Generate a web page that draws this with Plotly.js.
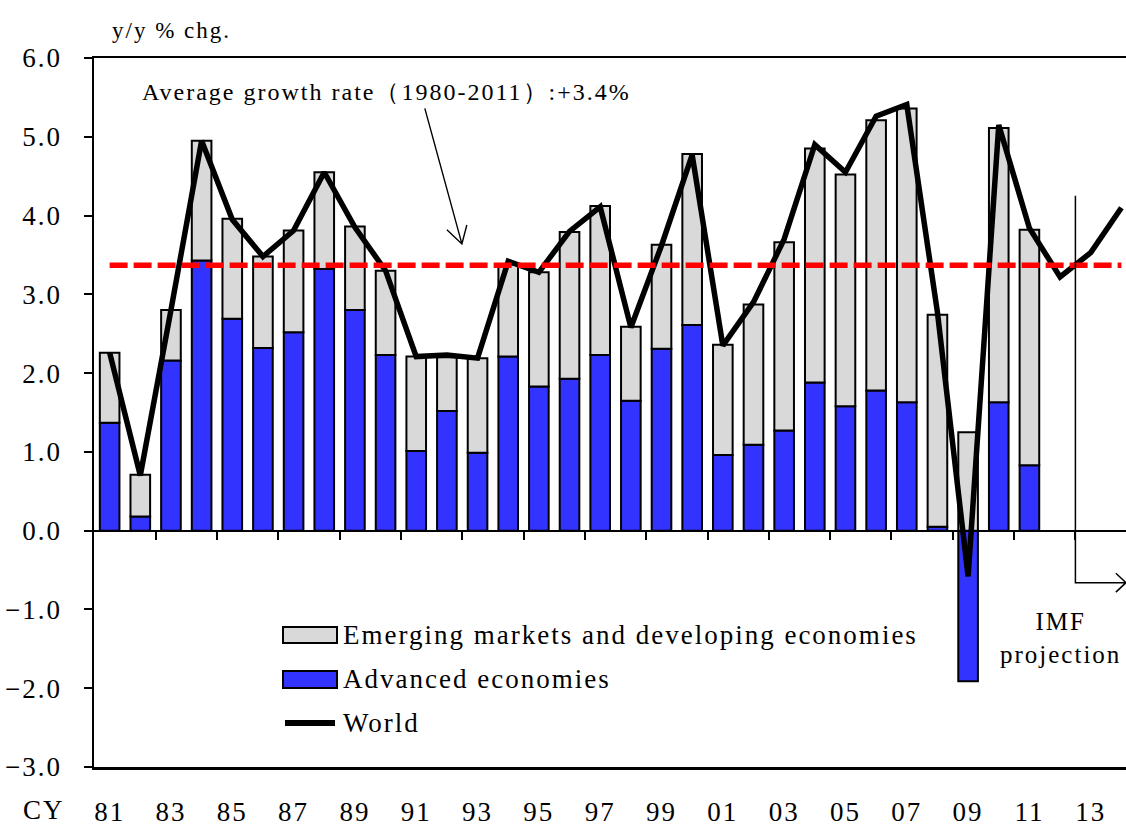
<!DOCTYPE html>
<html>
<head>
<meta charset="utf-8">
<script src="https://cdn.plot.ly/plotly-3.0.1.min.js"></script>
<style>
  html, body { margin: 0; padding: 0; background: #fff; }
  text { letter-spacing: 2px; }
</style>
</head>
<body>
<div id="chart" style="width:1126px;height:827px;"></div>
<script>
// calendar years of the bars (1981-2011) and of the world line (1981-2014)
var barYears = [1981, 1982, 1983, 1984, 1985, 1986, 1987, 1988, 1989, 1990,
    1991, 1992, 1993, 1994, 1995, 1996, 1997, 1998, 1999, 2000,
    2001, 2002, 2003, 2004, 2005, 2006, 2007, 2008, 2009, 2010, 2011];
var lineYears = [1981, 1982, 1983, 1984, 1985, 1986, 1987, 1988, 1989, 1990,
    1991, 1992, 1993, 1994, 1995, 1996, 1997, 1998, 1999, 2000,
    2001, 2002, 2003, 2004, 2005, 2006, 2007, 2008, 2009, 2010, 2011,
    2012, 2013, 2014];

// contributions to world growth, % pts
var advanced = [1.37, 0.18, 2.16, 3.43, 2.69, 2.32, 2.52, 3.32, 2.80, 2.23,
    1.01, 1.52, 0.99, 2.21, 1.83, 1.93, 2.23, 1.65, 2.31, 2.61,
    0.96, 1.09, 1.27, 1.88, 1.58, 1.78, 1.63, 0.05, -1.91, 1.63, 0.83];
var emerging = [0.89, 0.53, 0.64, 1.52, 1.27, 1.16, 1.29, 1.23, 1.06, 1.07,
    1.20, 0.68, 1.20, 1.17, 1.45, 1.86, 1.89, 0.94, 1.32, 2.17,
    1.40, 1.78, 2.39, 2.97, 2.94, 3.43, 3.73, 2.69, 1.25, 3.48, 2.99];
// world growth, y/y % (2012-2014 IMF projection)
var world = [2.26, 0.70, 2.80, 4.95, 3.95, 3.48, 3.81, 4.55, 3.85, 3.30,
    2.21, 2.23, 2.19, 3.42, 3.28, 3.80, 4.11, 2.58, 3.62, 4.77,
    2.35, 2.90, 3.70, 4.90, 4.55, 5.26, 5.41, 2.77, -0.58, 5.15, 3.84,
    3.22, 3.53, 4.10];

// average growth 1980-2011
var avgYears = [1981, 2014];
var avgGrowth = [3.37, 3.37];

// tick labels
var tickYears = [1981, 1983, 1985, 1987, 1989, 1991, 1993, 1995, 1997,
    1999, 2001, 2003, 2005, 2007, 2009, 2011, 2013];
var tickLabels = ['81', '83', '85', '87', '89', '91', '93', '95', '97',
    '99', '01', '03', '05', '07', '09', '11', '13'];
var zeroTicks = [1982.5, 1984.5, 1986.5, 1988.5, 1990.5, 1992.5, 1994.5, 1996.5,
    1998.5, 2000.5, 2002.5, 2004.5, 2006.5, 2008.5, 2010.5, 2012.5];

var FONT = 'Times New Roman, Liberation Serif, Tinos, DejaVu Serif, serif';
var ML = 94, MR = 0, MT = 58, MB = 60, W = 1126, H = 827;
var PW = W - ML - MR, PH = H - MT - MB;
var xRange = [1980.49, 2014.15];

// pixel -> paper helpers for the hand-drawn legend and labels
function px(x) { return (x - ML) / PW; }
function py(y) { return (H - MB - y) / PH; }

var traceAdvanced = {
    x: barYears, y: advanced, type: 'bar', name: 'Advanced economies',
    width: 0.64,
    marker: {color: '#3333ff', line: {color: '#000', width: 2}},
    showlegend: false
};
var traceEmerging = {
    x: barYears, y: emerging, type: 'bar', name: 'Emerging markets and developing economies',
    width: 0.64,
    marker: {color: '#d9d9d9', line: {color: '#000', width: 2}},
    showlegend: false
};
var traceWorld = {
    x: lineYears, y: world, type: 'scatter', mode: 'lines', name: 'World',
    line: {color: '#000', width: 5.5},
    showlegend: false
};
var traceAvg = {
    x: avgYears, y: avgGrowth, type: 'scatter', mode: 'lines', name: 'Average',
    xaxis: 'x2',
    line: {color: '#ff0000', width: 5.5, dash: '18px,6px'},
    showlegend: false
};

var legendRows = [
    {label: 'Emerging markets and developing economies', fill: '#d9d9d9', top: 627, bottom: 643, mid: 635},
    {label: 'Advanced economies', fill: '#3333ff', top: 671, bottom: 688, mid: 679}
];

var shapes = [
    // IMF projection bracket
    {type: 'path', xref: 'x', yref: 'y',
        path: 'M2012.5,4.25 L2012.5,-0.66 L2014.15,-0.66 M2013.82,-0.54 L2014.15,-0.66 L2013.82,-0.78',
        line: {color: '#000', width: 1.5}},
    // arrow to average line
    {type: 'path', xref: 'x', yref: 'y',
        path: 'M1991.28,5.36 L1992.49,3.64 M1992.0,3.82 L1992.49,3.64 L1992.65,3.88',
        line: {color: '#000', width: 1.4}},
    // legend: world line
    {type: 'line', xref: 'paper', yref: 'paper', x0: px(285), x1: px(335), y0: py(723), y1: py(723),
        line: {color: '#000', width: 6}}
];
legendRows.forEach(function (r) {
    shapes.push({type: 'rect', xref: 'paper', yref: 'paper',
        x0: px(283), x1: px(337), y0: py(r.bottom), y1: py(r.top),
        fillcolor: r.fill, line: {color: '#000', width: 2}});
});

var annotations = [
    {text: 'y/y % chg.', xref: 'paper', yref: 'paper', x: px(110), y: py(30),
        xanchor: 'left', yanchor: 'middle', showarrow: false, font: {size: 23}},
    {text: 'CY', xref: 'paper', yref: 'paper', x: px(44), y: py(810), borderpad: 0,
        xanchor: 'center', yanchor: 'middle', showarrow: false, font: {size: 27}},
    {text: 'Average growth rate（1980-2011）:+3.4%', xref: 'paper', yref: 'paper',
        x: px(140), y: py(92), xanchor: 'left', yanchor: 'middle', showarrow: false, font: {size: 24}},
    {text: 'IMF<br>projection', xref: 'paper', yref: 'paper', x: px(1060), y: py(638),
        xanchor: 'center', yanchor: 'middle', showarrow: false, font: {size: 25}},
    {text: 'World', xref: 'paper', yref: 'paper', x: px(341), y: py(723),
        xanchor: 'left', yanchor: 'middle', showarrow: false, font: {size: 27}}
];
legendRows.forEach(function (r) {
    annotations.push({text: r.label, xref: 'paper', yref: 'paper', x: px(341), y: py(r.mid),
        xanchor: 'left', yanchor: 'middle', showarrow: false, font: {size: 27}});
});

var layout = {
    width: W, height: H,
    margin: {l: ML, r: MR, t: MT, b: MB, pad: 0},
    paper_bgcolor: '#fff', plot_bgcolor: '#fff',
    font: {family: FONT, color: '#000', size: 27},
    barmode: 'relative',
    showlegend: false,
    xaxis: {
        range: xRange, tickmode: 'array', tickvals: tickYears, ticktext: tickLabels,
        ticks: 'outside', ticklen: 0, ticklabelstandoff: 19,
        showline: true, linecolor: '#000', linewidth: 2.5, mirror: true,
        showgrid: false, zeroline: false, tickfont: {family: FONT, size: 27}
    },
    xaxis2: {
        overlaying: 'x', anchor: 'free', position: 1 / 3, side: 'bottom',
        range: xRange, tickmode: 'array', tickvals: zeroTicks,
        ticks: 'outside', ticklen: 8, tickwidth: 2, tickcolor: '#000',
        showticklabels: false, showline: true, linecolor: '#000', linewidth: 2.5,
        showgrid: false, zeroline: false
    },
    yaxis: {
        range: [-3, 6], dtick: 1, tickformat: '.1f',
        ticks: 'outside', ticklen: 8, tickwidth: 2, tickcolor: '#000',
        ticklabelstandoff: 16,
        showline: true, linecolor: '#000', linewidth: 2.5,
        showgrid: false, zeroline: false, tickfont: {family: FONT, size: 27}
    },
    shapes: shapes,
    annotations: annotations
};

Plotly.newPlot('chart', [traceAdvanced, traceEmerging, traceWorld, traceAvg], layout,
    {displayModeBar: false, staticPlot: true});
</script>
</body>
</html>
